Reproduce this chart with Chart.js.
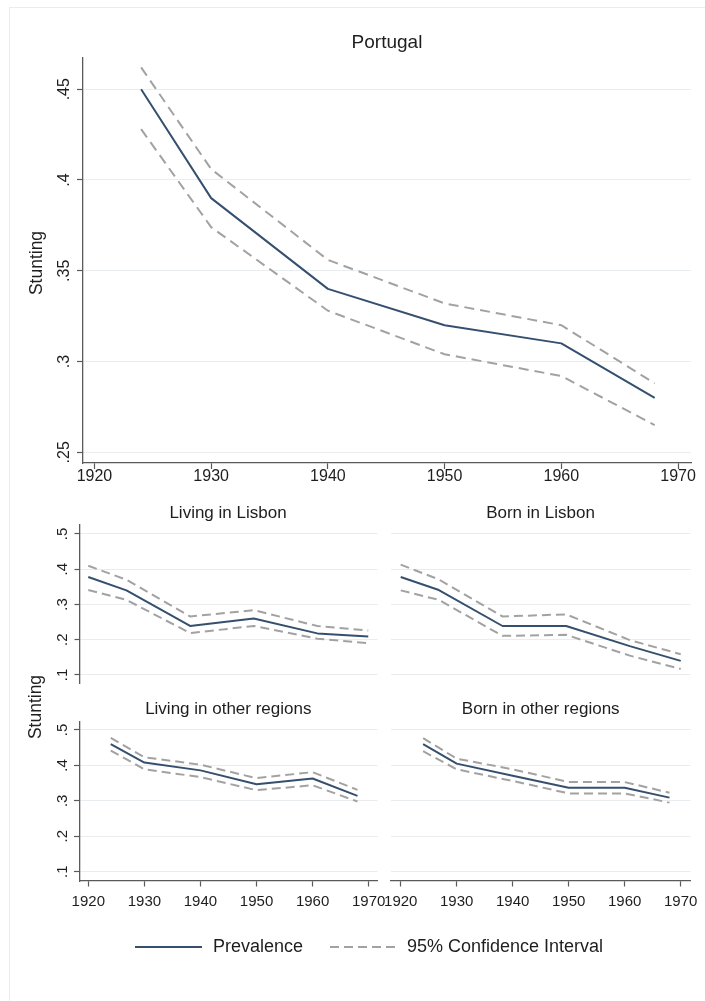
<!DOCTYPE html>
<html>
<head>
<meta charset="utf-8">
<script src="https://cdn.jsdelivr.net/npm/chart.js@4.4.1/dist/chart.umd.min.js"></script>
<style>
  html, body { margin: 0; padding: 0; background: #ffffff; }
  #wrap { position: relative; width: 705px; height: 1001px; overflow: hidden; background: #fff; }
  #frame { position: absolute; left: 9px; top: 7px; width: 700px; height: 1000px; border-left: 1px solid #ececec; border-top: 1px solid #ececec; }
  canvas { position: absolute; left: 0; top: 0; }
</style>
</head>
<body>
<div id="wrap">
  <div id="frame"></div>
  <canvas id="c0" width="705" height="1001"></canvas>
  <canvas id="c1" width="705" height="1001"></canvas>
  <canvas id="c2" width="705" height="1001"></canvas>
  <canvas id="c3" width="705" height="1001"></canvas>
  <canvas id="c4" width="705" height="1001"></canvas>
</div>
<script>
// ---------- DATA ----------
const years = [1924, 1930, 1940, 1950, 1960, 1968];

const portugalPrev  = [0.450, 0.390, 0.340, 0.320, 0.310, 0.280];
const portugalUpper = [0.462, 0.406, 0.356, 0.332, 0.320, 0.288];
const portugalLower = [0.428, 0.374, 0.328, 0.304, 0.292, 0.265];

const livLisbonPrev  = [0.378, 0.340, 0.239, 0.260, 0.218, 0.209];
const livLisbonUpper = [0.410, 0.370, 0.266, 0.284, 0.239, 0.226];
const livLisbonLower = [0.341, 0.313, 0.219, 0.239, 0.203, 0.190];

const bornLisbonPrev  = [0.378, 0.341, 0.239, 0.239, 0.182, 0.140];
const bornLisbonUpper = [0.413, 0.371, 0.266, 0.272, 0.199, 0.159];
const bornLisbonLower = [0.340, 0.313, 0.211, 0.214, 0.155, 0.117];

const livOtherPrev  = [0.460, 0.408, 0.386, 0.347, 0.363, 0.314];
const livOtherUpper = [0.478, 0.423, 0.402, 0.364, 0.381, 0.331];
const livOtherLower = [0.442, 0.389, 0.367, 0.330, 0.344, 0.298];

const bornOtherPrev  = [0.460, 0.405, 0.371, 0.337, 0.337, 0.309];
const bornOtherUpper = [0.477, 0.419, 0.389, 0.353, 0.353, 0.323];
const bornOtherLower = [0.440, 0.389, 0.356, 0.321, 0.321, 0.295];

const xTicks = [1920, 1930, 1940, 1950, 1960, 1970];
const yTicksTop = [0.25, 0.30, 0.35, 0.40, 0.45];
const yTickLabelsTop = ['.25', '.3', '.35', '.4', '.45'];
const yTicksPanel = [0.1, 0.2, 0.3, 0.4, 0.5];
const yTickLabelsPanel = ['.1', '.2', '.3', '.4', '.5'];

const titleTop = 'Portugal';
const panelTitles = ['Living in Lisbon', 'Born in Lisbon', 'Living in other regions', 'Born in other regions'];
const yAxisTitle = 'Stunting';
const legendLabels = ['Prevalence', '95% Confidence Interval'];

// ---------- STYLE ----------
const FONT = '"Liberation Sans", Arial, Helvetica, sans-serif';
const TEXT = '#1e1e1e';
const PREV_COLOR = '#35506e';
const CI_COLOR = '#a2a2a2';
const AXIS_COLOR = '#5a5a5a';
const GRID_COLOR = '#e9edf0';

function pts(xs, ys) { return xs.map((x, i) => ({ x: x, y: ys[i] })); }

function datasets(prev, up, lo, big) {
  const dash = big ? [10, 6] : [9, 5];
  return [
    { label: legendLabels[1], data: pts(years, up), borderColor: CI_COLOR, borderWidth: 2, borderDash: dash, pointRadius: 0, tension: 0, fill: false },
    { label: legendLabels[1] + ' (lower)', data: pts(years, lo), borderColor: CI_COLOR, borderWidth: 2, borderDash: dash, pointRadius: 0, tension: 0, fill: false },
    { label: legendLabels[0], data: pts(years, prev), borderColor: PREV_COLOR, borderWidth: 2, pointRadius: 0, tension: 0, fill: false, borderJoinStyle: 'round' }
  ];
}

function textPlugin(cfg) {
  return {
    id: 'txt' + Math.random().toString(36).slice(2),
    afterDraw(chart) {
      const ctx = chart.ctx;
      ctx.save();
      ctx.fillStyle = TEXT;
      // title
      if (cfg.title) {
        ctx.font = cfg.title.size + 'px ' + FONT;
        ctx.textAlign = 'center';
        ctx.textBaseline = 'middle';
        ctx.fillText(cfg.title.text, cfg.title.x, cfg.title.y);
      }
      // rotated y tick labels
      if (cfg.yLabels) {
        const s = chart.scales.y;
        ctx.font = cfg.yLabels.size + 'px ' + FONT;
        ctx.textAlign = 'center';
        ctx.textBaseline = 'middle';
        cfg.yLabels.values.forEach((v, i) => {
          const py = s.getPixelForValue(v);
          ctx.save();
          ctx.translate(cfg.yLabels.x, py);
          ctx.rotate(-Math.PI / 2);
          ctx.fillText(cfg.yLabels.labels[i], 0, 0);
          ctx.restore();
        });
      }
      // y axis title
      if (cfg.yTitle) {
        ctx.font = cfg.yTitle.size + 'px ' + FONT;
        ctx.textAlign = 'center';
        ctx.textBaseline = 'middle';
        ctx.save();
        ctx.translate(cfg.yTitle.x, cfg.yTitle.y);
        ctx.rotate(-Math.PI / 2);
        ctx.fillText(cfg.yTitle.text, 0, 0);
        ctx.restore();
      }
      // legend
      if (cfg.legend) {
        const L = cfg.legend;
        ctx.lineWidth = 2.2;
        ctx.strokeStyle = PREV_COLOR;
        ctx.setLineDash([]);
        ctx.beginPath(); ctx.moveTo(L.x1a, L.y); ctx.lineTo(L.x1b, L.y); ctx.stroke();
        ctx.strokeStyle = CI_COLOR;
        ctx.setLineDash([9, 5]);
        ctx.beginPath(); ctx.moveTo(L.x2a, L.y); ctx.lineTo(L.x2b, L.y); ctx.stroke();
        ctx.setLineDash([]);
        ctx.font = L.size + 'px ' + FONT;
        ctx.textAlign = 'left';
        ctx.textBaseline = 'middle';
        ctx.fillText(legendLabels[0], L.t1, L.y);
        ctx.fillText(legendLabels[1], L.t2, L.y);
      }
      ctx.restore();
    }
  };
}

function makeChart(id, o) {
  const ctxEl = document.getElementById(id);
  const xScale = {
    type: 'linear',
    min: o.xmin, max: o.xmax,
    display: o.showX,
    afterBuildTicks(s) { s.ticks = xTicks.map(v => ({ value: v })); },
    afterFit(s) { if (o.showX) { s.height = o.xH; } s.paddingLeft = 0; s.paddingRight = 0; },
    ticks: {
      color: TEXT, font: { family: FONT, size: o.xFont, lineHeight: 1 }, padding: o.xPad,
      maxRotation: 0, minRotation: 0, autoSkip: false,
      callback: v => String(v)
    },
    grid: { display: true, drawOnChartArea: false, drawTicks: true, tickLength: o.tick, tickColor: AXIS_COLOR, tickWidth: 1.2 },
    border: { display: true, color: AXIS_COLOR, width: 1.3 }
  };
  const yScale = {
    type: 'linear',
    min: o.ymin, max: o.ymax,
    display: true,
    afterBuildTicks(s) { s.ticks = o.yTicks.map(v => ({ value: v })); },
    afterFit(s) { s.width = o.yW; s.paddingTop = 0; s.paddingBottom = 0; },
    ticks: { display: false },
    grid: { display: true, drawOnChartArea: true, color: GRID_COLOR, lineWidth: 1,
            drawTicks: o.showYAxis, tickLength: o.tick, tickColor: AXIS_COLOR, tickWidth: 1.2 },
    border: { display: o.showYAxis, color: AXIS_COLOR, width: 1.3 }
  };
  return new Chart(ctxEl, {
    type: 'line',
    data: { datasets: o.datasets },
    options: {
      responsive: false,
      animation: false,
      devicePixelRatio: 1,
      layout: { padding: o.padding },
      plugins: { legend: { display: false }, title: { display: false }, tooltip: { enabled: false } },
      scales: { x: xScale, y: yScale }
    },
    plugins: [textPlugin(o.text)]
  });
}

// Top chart: Portugal
makeChart('c0', {
  datasets: datasets(portugalPrev, portugalUpper, portugalLower, true),
  xmin: 1919.02, xmax: 1971.11, showX: true, xH: 32, xFont: 16, xPad: 0, tick: 6,
  ymin: 0.2441, ymax: 0.4672, yTicks: yTicksTop, yW: 83, showYAxis: true,
  padding: { left: 0, top: 58, right: 705 - 691, bottom: 1001 - 463 - 32 },
  text: {
    title: { text: titleTop, size: 19, x: 387, y: 43 },
    yLabels: { values: yTicksTop, labels: yTickLabelsTop, size: 16, x: 65 },
    yTitle: { text: yAxisTitle, size: 17.5, x: 37, y: 263 },
    legend: { y: 947, x1a: 135, x1b: 202, t1: 213, x2a: 330, x2b: 395, t2: 407, size: 18 }
  }
});

// Upper-left: Living in Lisbon
makeChart('c1', {
  datasets: datasets(livLisbonPrev, livLisbonUpper, livLisbonLower, false),
  xmin: 1922.62, xmax: 1969.45, showX: false, xH: 0, xFont: 15, xPad: 8, tick: 5,
  ymin: 0.0773, ymax: 0.5255, yTicks: yTicksPanel, yW: 79.5, showYAxis: true,
  padding: { left: 0, top: 525, right: 705 - 377.5, bottom: 1001 - 683 },
  text: {
    title: { text: panelTitles[0], size: 17, x: 228, y: 513 },
    yLabels: { values: yTicksPanel, labels: yTickLabelsPanel, size: 15, x: 63 },
    yTitle: { text: yAxisTitle, size: 17.5, x: 36.5, y: 707 }
  }
});

// Upper-right: Born in Lisbon
makeChart('c2', {
  datasets: datasets(bornLisbonPrev, bornLisbonUpper, bornLisbonLower, false),
  xmin: 1922.43, xmax: 1969.57, showX: false, xH: 0, xFont: 15, xPad: 8, tick: 5,
  ymin: 0.0773, ymax: 0.5255, yTicks: yTicksPanel, yW: 0, showYAxis: false,
  padding: { left: 390.7, top: 525, right: 705 - 690.7, bottom: 1001 - 683 },
  text: {
    title: { text: panelTitles[1], size: 17, x: 540.5, y: 513 }
  }
});

// Lower-left: Living in other regions
makeChart('c3', {
  datasets: datasets(livOtherPrev, livOtherUpper, livOtherLower, false),
  xmin: 1918.43, xmax: 1971.57, showX: true, xH: 30, xFont: 15, xPad: 8, tick: 5.5,
  ymin: 0.0737, ymax: 0.5234, yTicks: yTicksPanel, yW: 79.5, showYAxis: true,
  padding: { left: 0, top: 721.7, right: 705 - 377.5, bottom: 1001 - 881 - 30 },
  text: {
    title: { text: panelTitles[2], size: 17, x: 228.3, y: 709 },
    yLabels: { values: yTicksPanel, labels: yTickLabelsPanel, size: 15, x: 63 }
  }
});

// Lower-right: Born in other regions
makeChart('c4', {
  datasets: datasets(bornOtherPrev, bornOtherUpper, bornOtherLower, false),
  xmin: 1918.21, xmax: 1971.79, showX: true, xH: 30, xFont: 15, xPad: 8, tick: 5.5,
  ymin: 0.0737, ymax: 0.5234, yTicks: yTicksPanel, yW: 0, showYAxis: false,
  padding: { left: 390.7, top: 721.7, right: 705 - 690.7, bottom: 1001 - 881 - 30 },
  text: {
    title: { text: panelTitles[3], size: 17, x: 540.7, y: 709 }
  }
});
</script>
</body>
</html>
